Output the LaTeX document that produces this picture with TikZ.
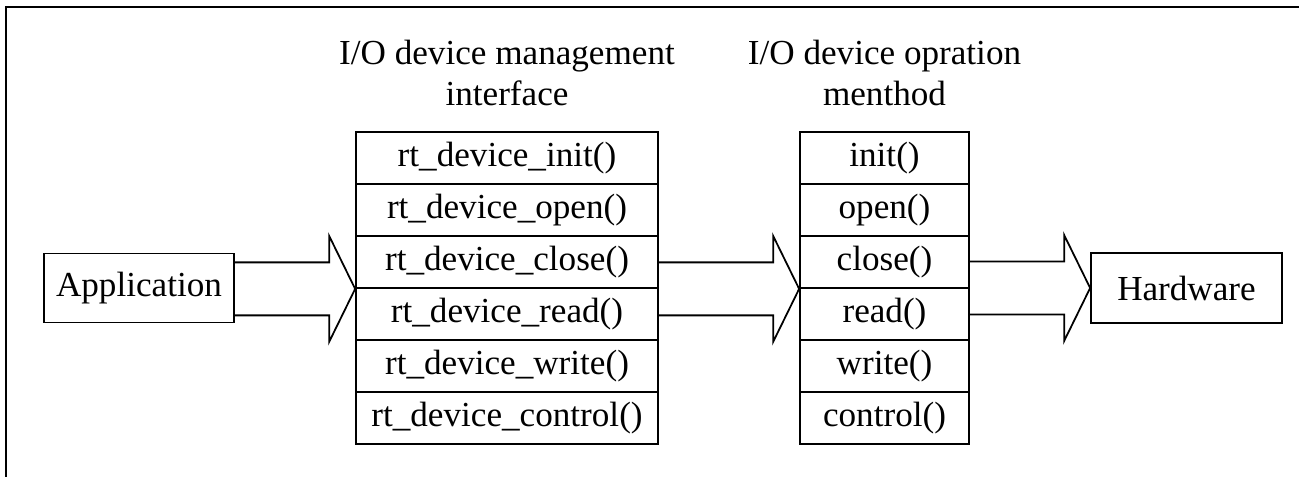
\documentclass[tikz,border=0pt]{standalone}
\usepackage{fontspec}
\setmainfont{Liberation Serif}
\usetikzlibrary{calc}

% open block arrow: shaft from the east side of #1, tip at #2
\newcommand{\fatarrow}[2]{%
	\draw [line width=1pt] ($(#1.east |- #2)+(0,-26.5)$) -- ($(#2)+(-26,-26.5)$) -- ($(#2)+(-26,-53)$) -- (#2) -- ($(#2)+(-26,53)$) -- ($(#2)+(-26,26.5)$) -- ($(#1.east |- #2)+(0,26.5)$);%
}

\begin{document}
\begin{tikzpicture}[x=0.02cm,y=-0.02cm]
		\tikzstyle{every node} = [font = \fontsize{20}{23.3}\selectfont]
		\tikzstyle{cell} = [draw, line width=1pt, inner sep=0pt, minimum height=1.04cm]
		\useasboundingbox (0,0) rectangle (1299,477);

		\draw [line width=1.3pt] (1299,7) -- (6,7) -- (6,477); %frame

		\node [cell, minimum width=3.8cm, minimum height=1.38cm] (app) at (139,288) {Application};
		\node [cell, minimum width=3.82cm, minimum height=1.4cm] (hw) at (1186.5,288) {Hardware};

		\foreach \name [count=\i] in {init,open,close,read,write,control}
		{
			\node [cell, minimum width=6.04cm] (l\i) at (507,106+52*\i) {rt\_device\_\name()};
			\node [cell, minimum width=3.38cm] (r\i) at (884.5,106+52*\i) {\name()};
		}

		\node [align=center, anchor=north, inner sep=0pt] (ltitle) at (507,40) {I/O device management\\interface};
		\node [align=center, anchor=north, inner sep=0pt] (rtitle) at (884.5,40) {I/O device opration\\menthod};

		\fatarrow{app}{l3.south west} %app to interface
		\fatarrow{l3}{r3.south west} %interface to methods
		\fatarrow{r3}{hw.west} %methods to hardware
	\end{tikzpicture}
\end{document}
